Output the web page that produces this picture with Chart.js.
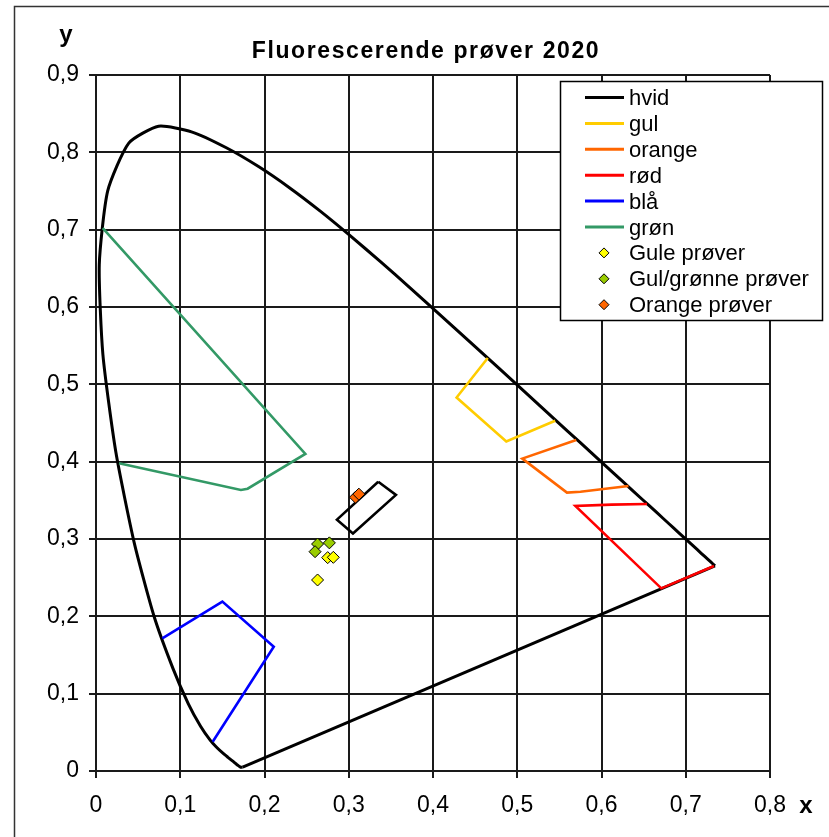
<!DOCTYPE html>
<html>
<head>
<meta charset="utf-8">
<script src="https://cdn.jsdelivr.net/npm/chart.js@4/dist/chart.umd.min.js"></script>
<style>
html,body{margin:0;padding:0;background:#fff;}
canvas{display:block;}
</style>
</head>
<body>
<canvas id="c" width="829" height="837"></canvas>
<script>
// ---- Data ----
const chartTitle = "Fluorescerende prøver 2020";
const xTicks = [0, 0.1, 0.2, 0.3, 0.4, 0.5, 0.6, 0.7, 0.8];
const yTicks = [0, 0.1, 0.2, 0.3, 0.4, 0.5, 0.6, 0.7, 0.8, 0.9];

// spectral locus (horseshoe)
const locusX = [0.1741,0.1740,0.1738,0.1736,0.1733,0.1730,0.1726,0.1721,0.1714,0.1703,0.1689,0.1669,0.1644,0.1611,0.1566,0.1510,0.1440,0.1355,0.1241,0.1096,0.0913,0.0687,0.0454,0.0235,0.0082,0.0039,0.0139,0.0389,0.0743,0.1142,0.1547,0.1929,0.2296,0.2658,0.3016,0.3373,0.3731,0.4087,0.4441,0.4788,0.5125,0.5448,0.5752,0.6029,0.6270,0.6482,0.6658,0.6801,0.6915,0.7079,0.7190,0.7260,0.7300,0.7334,0.7347];
const locusY = [0.0050,0.0050,0.0049,0.0049,0.0048,0.0048,0.0048,0.0048,0.0051,0.0058,0.0069,0.0086,0.0109,0.0138,0.0177,0.0227,0.0297,0.0399,0.0578,0.0868,0.1327,0.2007,0.2950,0.4127,0.5384,0.6548,0.7502,0.8120,0.8338,0.8262,0.8059,0.7816,0.7543,0.7243,0.6923,0.6589,0.6245,0.5896,0.5547,0.5202,0.4866,0.4544,0.4242,0.3965,0.3725,0.3514,0.3340,0.3197,0.3083,0.2920,0.2809,0.2740,0.2700,0.2666,0.2653];
// purple line
const purpleX = [0.7347, 0.1741];
const purpleY = [0.2653, 0.0050];

const hvidX = [0.335, 0.356, 0.305, 0.286, 0.335];
const hvidY = [0.374, 0.357, 0.307, 0.325, 0.374];
const gulX = [0.465, 0.428, 0.487, 0.545];
const gulY = [0.534, 0.483, 0.426, 0.453];
const orangeX = [0.570, 0.506, 0.559, 0.575, 0.632];
const orangeY = [0.428, 0.404, 0.360, 0.361, 0.3685];
const rodX = [0.654, 0.612, 0.569, 0.671, 0.7335];
const rodY = [0.3453, 0.3445, 0.3427, 0.2362, 0.2651];
const blaX = [0.0787, 0.150, 0.211, 0.1385];
const blaY = [0.1716, 0.219, 0.1608, 0.0379];
const gronX = [0.0273, 0.172, 0.180, 0.2485, 0.008];
const gronY = [0.398, 0.3634, 0.365, 0.410, 0.702];

const guleX = [0.275, 0.2817, 0.263];
const guleY = [0.2759, 0.2763, 0.247];
const gulgronneX = [0.263, 0.277, 0.260];
const gulgronneY = [0.2935, 0.295, 0.2836];
const orangeProverX = [0.308, 0.312];
const orangeProverY = [0.354, 0.358];

const lineSeries = [
  {label: "hvid", xs: hvidX, ys: hvidY, color: "#000000"},
  {label: "gul", xs: gulX, ys: gulY, color: "#FFCC00"},
  {label: "orange", xs: orangeX, ys: orangeY, color: "#FF6600"},
  {label: "rød", xs: rodX, ys: rodY, color: "#FF0000"},
  {label: "blå", xs: blaX, ys: blaY, color: "#0000FF"},
  {label: "grøn", xs: gronX, ys: gronY, color: "#339966"}
];
const pointSeries = [
  {label: "Gule prøver", xs: guleX, ys: guleY, color: "#FFFF00"},
  {label: "Gul/grønne prøver", xs: gulgronneX, ys: gulgronneY, color: "#99CC00"},
  {label: "Orange prøver", xs: orangeProverX, ys: orangeProverY, color: "#FF6600"}
];

const pts = (xs, ys) => xs.map((x, i) => ({x: x, y: ys[i]}));

const datasets = [];
pointSeries.forEach((s, i) => datasets.push({
  label: s.label, data: pts(s.xs, s.ys), showLine: false,
  pointStyle: 'rectRot', pointRadius: 6, pointBackgroundColor: s.color,
  pointBorderColor: '#000', pointBorderWidth: 1, backgroundColor: s.color, borderColor: '#000',
  legendKind: 'point', order: i
}));
lineSeries.forEach((s, i) => datasets.push({
  label: s.label, data: pts(s.xs, s.ys), showLine: true, pointRadius: 0,
  borderColor: s.color, backgroundColor: s.color, borderWidth: 2.6, tension: 0,
  legendKind: 'line', order: 10 + i
}));
datasets.push({
  label: "locus", data: pts(locusX, locusY), showLine: true, pointRadius: 0,
  borderColor: '#000', borderWidth: 3, tension: 0.2, legendKind: 'none', order: 30
});
datasets.push({
  label: "purple", data: pts(purpleX, purpleY), showLine: true, pointRadius: 0,
  borderColor: '#000', borderWidth: 3, tension: 0, legendKind: 'none', order: 31
});

const fmt = v => String(Math.round(v * 10) / 10).replace('.', ',');

const decor = {
  id: 'decor',
  afterDraw(chart) {
    const ctx = chart.ctx;
    ctx.save();
    // outer frame
    ctx.strokeStyle = '#333';
    ctx.lineWidth = 1.5;
    ctx.strokeRect(14.5, 6.5, 1000, 1000);
    // title
    ctx.fillStyle = '#000';
    ctx.font = 'bold 23px "Liberation Sans", Arial, sans-serif';
    ctx.textAlign = 'center';
    ctx.textBaseline = 'alphabetic';
    try { ctx.letterSpacing = '1.6px'; } catch (e) {}
    ctx.fillText(chartTitle, 426, 58);
    try { ctx.letterSpacing = '0px'; } catch (e) {}
    // axis names
    ctx.font = 'bold 24px "Liberation Sans", Arial, sans-serif';
    ctx.fillText('y', 66, 42);
    ctx.fillText('x', 806, 813);
    // legend
    const lx = 560, ly = 81, lw = 262, lh = 239;
    ctx.fillStyle = '#fff';
    ctx.fillRect(lx, ly, lw, lh);
    ctx.strokeStyle = '#000';
    ctx.lineWidth = 1.5;
    ctx.strokeRect(lx + 0.5, ly + 0.5, lw, lh);
    ctx.font = '22px "Liberation Sans", Arial, sans-serif';
    ctx.textAlign = 'left';
    const entries = chart.data.datasets.filter(d => d.legendKind !== 'none');
    const ordered = entries.filter(d => d.legendKind === 'line').concat(entries.filter(d => d.legendKind === 'point'));
    ordered.forEach((d, i) => {
      const cy = 97.5 + i * 25.9;
      if (d.legendKind === 'line') {
        ctx.strokeStyle = d.borderColor;
        ctx.lineWidth = 3;
        ctx.beginPath(); ctx.moveTo(585, cy); ctx.lineTo(624, cy); ctx.stroke();
      } else {
        ctx.fillStyle = d.pointBackgroundColor;
        ctx.strokeStyle = '#000';
        ctx.lineWidth = 1;
        const r = 5;
        ctx.beginPath();
        ctx.moveTo(604, cy - r); ctx.lineTo(604 + r, cy); ctx.lineTo(604, cy + r); ctx.lineTo(604 - r, cy); ctx.closePath();
        ctx.fill(); ctx.stroke();
      }
      ctx.fillStyle = '#000';
      ctx.fillText(d.label, 629, cy + 7.5);
    });
    ctx.restore();
  }
};

new Chart(document.getElementById('c'), {
  type: 'scatter',
  data: { datasets: datasets },
  options: {
    responsive: false,
    devicePixelRatio: 1,
    animation: false,
    layout: { padding: { top: 75, right: 59, left: 0, bottom: 0 } },
    plugins: { legend: { display: false }, title: { display: false }, tooltip: { enabled: false } },
    scales: {
      x: {
        type: 'linear', min: 0, max: 0.8,
        afterBuildTicks: s => { s.ticks = xTicks.map(v => ({value: v})); },
        afterFit: s => { s.height = 66; },
        grid: { color: '#1a1a1a', lineWidth: 2, tickLength: 7, drawTicks: true },
        border: { color: '#1a1a1a', width: 2 },
        ticks: { callback: fmt, color: '#000', padding: 14, font: { family: '"Liberation Sans", Arial, sans-serif', size: 23 } }
      },
      y: {
        type: 'linear', min: 0, max: 0.9,
        afterBuildTicks: s => { s.ticks = yTicks.map(v => ({value: v})); },
        afterFit: s => { s.width = 96; },
        grid: { color: '#1a1a1a', lineWidth: 2, tickLength: 7, drawTicks: true },
        border: { color: '#1a1a1a', width: 2 },
        ticks: { callback: fmt, color: '#000', padding: 10, font: { family: '"Liberation Sans", Arial, sans-serif', size: 23 } }
      }
    }
  },
  plugins: [decor]
});
</script>
</body>
</html>
